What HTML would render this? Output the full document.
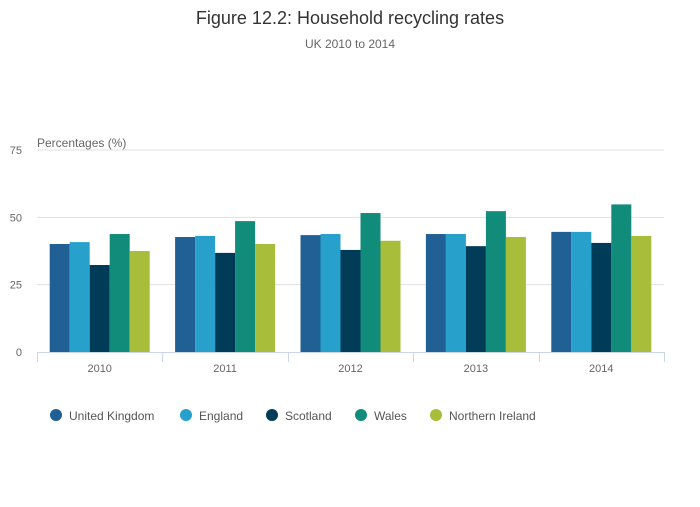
<!DOCTYPE html>
<html><head><meta charset="utf-8"><style>
body{margin:0;background:#fff;}
svg text{font-family:"Liberation Sans",sans-serif;}
</style></head><body>
<svg id="chart" width="700" height="502" xmlns="http://www.w3.org/2000/svg">
<text x="350" y="24" text-anchor="middle" font-size="18" fill="#333">Figure 12.2: Household recycling rates</text>
<text x="350" y="48" text-anchor="middle" font-size="12" fill="#666">UK 2010 to 2014</text>
<text x="37" y="147" font-size="12" fill="#666">Percentages (%)</text>
<g id="grid"></g><g id="bars"></g><g id="axis"></g><g id="legend"></g>
</svg>
<script>
const categories=["2010","2011","2012","2013","2014"];
const seriesNames=["United Kingdom","England","Scotland","Wales","Northern Ireland"];
const ukValues=[40.1,42.7,43.4,43.8,44.6];
const englandValues=[40.8,43.1,43.8,43.8,44.6];
const scotlandValues=[32.3,36.8,37.9,39.3,40.5];
const walesValues=[43.8,48.6,51.6,52.3,54.8];
const niValues=[37.5,40.1,41.3,42.7,43.1];
const yTicks=[0,25,50,75];
const seriesValues=[ukValues,englandValues,scotlandValues,walesValues,niValues];
const colors=["#206095","#27a0cc","#003c57","#118c7b","#a8bd3a"];
const NS="http://www.w3.org/2000/svg";
const x0=37,x1=664,yBase=352,yMax=75,yTop=150;
const y=v=>yBase-(v/yMax)*(yBase-yTop);
const bandW=(x1-x0)/categories.length;
const barW=20;
function mk(tag,attrs,parent){const e=document.createElementNS(NS,tag);for(const k in attrs)e.setAttribute(k,attrs[k]);parent.appendChild(e);return e;}
const grid=document.getElementById('grid');
yTicks.forEach(t=>{
  if(t>0){const l=mk('line',{x1:x0,x2:x1,y1:y(t),y2:y(t),stroke:'#e0e0e0','stroke-width':1},grid);
  
  }
  const tx=mk('text',{x:22,y:y(t)+4,'text-anchor':'end','font-size':11,fill:'#666'},grid);
  tx.textContent=t;
  
  
});
const bars=document.getElementById('bars');
categories.forEach((c,i)=>{
  const start=x0+i*bandW+(bandW-barW*seriesValues.length)/2;
  seriesValues.forEach((s,j)=>{
    const r=mk('rect',{x:start+j*barW,y:y(s[i]),width:barW,height:yBase-y(s[i]),fill:colors[j]},bars);
    
    
  });
});
const axis=document.getElementById('axis');
const al=mk('line',{x1:x0,x2:x1,y1:yBase+0.5,y2:yBase+0.5,stroke:'#ccd6eb','stroke-width':1},axis);


for(let i=0;i<=categories.length;i++){
  const xx=Math.round(x0+i*bandW)+0.5;
  const tk=mk('line',{x1:xx,x2:xx,y1:yBase,y2:yBase+10,stroke:'#ccd6eb','stroke-width':1},axis);
  
  
}
categories.forEach((c,i)=>{
  const t=mk('text',{x:x0+(i+0.5)*bandW,y:372,'text-anchor':'middle','font-size':11,fill:'#666'},axis);
  t.textContent=c;
  
  
});
const legend=document.getElementById('legend');
const lx=[56,186,272,361,436];
seriesNames.forEach((n,j)=>{
  const g=mk('g',{},legend);
  
  
  mk('circle',{cx:lx[j],cy:415,r:6,fill:colors[j]},g);
  const t=mk('text',{x:lx[j]+13,y:420,'font-size':12,fill:'#555'},g);
  t.textContent=n;
});
</script>
</body></html>
